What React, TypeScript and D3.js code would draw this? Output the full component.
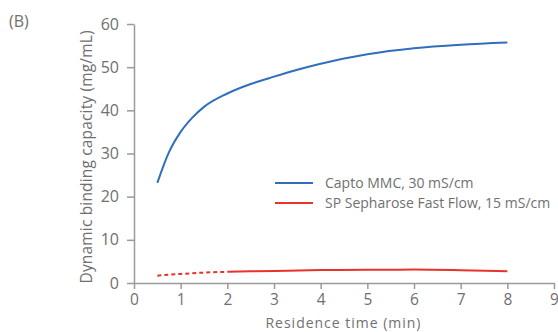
import React, { useRef, useEffect } from "react";
import * as d3 from "d3";

// Capto MMC, 30 mS/cm
const captoTime = [0.5, 0.75, 1, 1.25, 1.5, 2, 2.5, 3, 3.5, 4, 5, 6, 7, 8];
const captoDbc = [23.2, 30.3, 35.0, 38.3, 40.8, 43.9, 46.1, 47.8, 49.4, 50.8, 53.0, 54.4, 55.2, 55.7];

// SP Sepharose Fast Flow, 15 mS/cm (dotted part is extrapolated)
const spTimeDotted = [0.5, 1, 1.5, 2];
const spDbcDotted = [1.7, 2.1, 2.4, 2.6];
const spTime = [2, 3, 4, 5, 6, 7, 8];
const spDbc = [2.6, 2.8, 3.0, 3.05, 3.1, 2.95, 2.7];

const xTicks = [0, 1, 2, 3, 4, 5, 6, 7, 8, 9];
const yTicks = [0, 10, 20, 30, 40, 50, 60];

const legendLabels = ["Capto MMC, 30 mS/cm", "SP Sepharose Fast Flow, 15 mS/cm"];
const colors = ["#2f6fbd", "#e8322b"];

const W = 558;
const H = 332;
const margin = { left: 134, right: 4, top: 24, bottom: 49 };
const font = "'Open Sans', sans-serif";
const textColor = "#707070";
const axisColor = "#9a9a9a";

const App = () => {
  const ref = useRef(null);

  useEffect(() => {
    const svg = d3.select(ref.current);
    svg.selectAll("*").remove();

    const x = d3.scaleLinear().domain([0, 9]).range([margin.left, W - margin.right]);
    const y = d3.scaleLinear().domain([0, 60]).range([H - margin.bottom, margin.top]);

    // x axis
    const gx = svg
      .append("g")
      .attr("transform", `translate(0,${H - margin.bottom})`)
      .call(d3.axisBottom(x).tickValues(xTicks).tickSize(6).tickPadding(5).tickSizeOuter(0));
    gx.select(".domain").attr("stroke", axisColor).attr("stroke-width", 1.5);
    gx.selectAll(".tick line").attr("stroke", axisColor).attr("stroke-width", 1.5);
    gx.selectAll(".tick text")
      .attr("fill", textColor)
      .attr("font-size", 15.5)
      .attr("font-family", font);

    // y axis
    const gy = svg
      .append("g")
      .attr("transform", `translate(${margin.left},0)`)
      .call(d3.axisLeft(y).tickValues(yTicks).tickSize(7).tickPadding(8).tickSizeOuter(0));
    gy.select(".domain").attr("stroke", axisColor).attr("stroke-width", 1.5);
    gy.selectAll(".tick line").attr("stroke", axisColor).attr("stroke-width", 1.5);
    gy.selectAll(".tick text")
      .attr("fill", textColor)
      .attr("font-size", 16)
      .attr("font-family", font);

    // axis titles
    svg
      .append("text")
      .attr("x", 343)
      .attr("y", H - 4.5)
      .attr("text-anchor", "middle")
      .attr("fill", textColor)
      .attr("font-size", 14)
      .attr("font-family", font)
      .attr("textLength", 155)
      .attr("lengthAdjust", "spacing")
      .text("Residence time (min)");

    svg
      .append("text")
      .attr("transform", `translate(92,${157}) rotate(-90)`)
      .attr("text-anchor", "middle")
      .attr("fill", textColor)
      .attr("font-size", 15.5)
      .attr("font-family", font)
      .attr("textLength", 253)
      .attr("lengthAdjust", "spacing")
      .text("Dynamic binding capacity (mg/mL)");

    svg
      .append("text")
      .attr("x", 9)
      .attr("y", 27)
      .attr("fill", textColor)
      .attr("font-size", 16)
      .attr("font-family", font)
      .text("(B)");

    const line = d3
      .line<[number, number]>()
      .x((d) => x(d[0]))
      .y((d) => y(d[1]))
      .curve(d3.curveMonotoneX);

    svg
      .append("path")
      .datum(captoTime.map((t, i) => [t, captoDbc[i]] as [number, number]))
      .attr("d", line)
      .attr("fill", "none")
      .attr("stroke", colors[0])
      .attr("stroke-width", 2);

    svg
      .append("path")
      .datum(spTimeDotted.map((t, i) => [t, spDbcDotted[i]] as [number, number]))
      .attr("d", line)
      .attr("fill", "none")
      .attr("stroke", colors[1])
      .attr("stroke-width", 2)
      .attr("stroke-dasharray", "4,3");

    svg
      .append("path")
      .datum(spTime.map((t, i) => [t, spDbc[i]] as [number, number]))
      .attr("d", line)
      .attr("fill", "none")
      .attr("stroke", colors[1])
      .attr("stroke-width", 2);

    // legend
    const lg = svg.append("g").attr("transform", "translate(275,183)");
    legendLabels.forEach((label, i) => {
      const row = lg.append("g").attr("transform", `translate(0,${i * 20})`);
      row
        .append("line")
        .attr("x1", 0)
        .attr("x2", 38)
        .attr("stroke", colors[i])
        .attr("stroke-width", 2);
      row
        .append("text")
        .attr("x", 50)
        .attr("y", 5)
        .attr("fill", textColor)
        .attr("font-size", 14)
        .attr("font-family", font)
        .text(label);
    });
  }, []);

  return <svg ref={ref} width={W} height={H} style={{ position: "absolute", left: 0, top: 0 }} />;
};

export default App;
